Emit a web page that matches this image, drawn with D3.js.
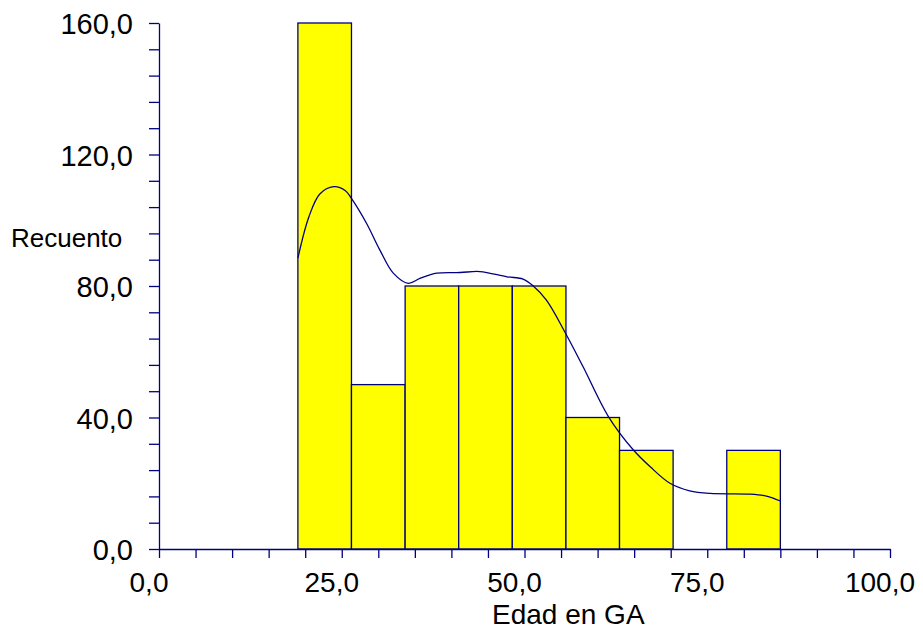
<!DOCTYPE html>
<html>
<head>
<meta charset="utf-8">
<script src="https://cdn.jsdelivr.net/npm/d3@7"></script>
<style>
  body { margin: 0; background: #fff; }
  text { font-family: "Liberation Sans", Arial, sans-serif; fill: #000; }
</style>
</head>
<body>
<svg id="chart" width="923" height="630"></svg>
<script>
// histogram bins (Edad en GA) and counts
var binEdges = [19, 26.33, 33.67, 41, 48.33, 55.67, 63, 70.33, 77.67, 85];
var counts = [160, 50, 80, 80, 80, 40, 30, 0, 30];

// smoothed density curve, in count units
var curveX = [19, 20.5, 22, 23.9, 25.5, 26.3, 28.4, 30.2, 32.05, 34.1, 35.7, 38, 41.2, 43.9, 47.6, 49.8, 51.2, 53, 55.5, 58, 61.5, 64.9, 67.2, 69.9, 72.6, 75.4, 80.8, 83.1, 85];
var curveY = [88.5, 101, 108, 110.2, 109, 106.7, 99, 91, 83.9, 80.8, 82.3, 83.9, 84.1, 84.4, 82.8, 82.1, 80, 75.7, 66.1, 55.5, 40.2, 30.1, 25, 20, 17.7, 16.9, 16.7, 16.1, 14.6];

var xTicks = [0, 25, 50, 75, 100];
var yTicks = [0, 40, 80, 120, 160];

var navy = "#000080";
var svg = d3.select("#chart"),
    margin = {top: 23, left: 159},
    width = 731,
    height = 526;

var x = d3.scaleLinear().domain([0, 100]).range([margin.left, margin.left + width]);
var y = d3.scaleLinear().domain([0, 160]).range([margin.top + height, margin.top]);
var fmt = function(d) { return d3.format(".1f")(d).replace(".", ","); };

var bins = counts.map(function(c, i) { return {x0: binEdges[i], x1: binEdges[i + 1], n: c}; });

svg.append("g").selectAll("rect")
    .data(bins)
  .enter().append("rect")
    .attr("x", function(d) { return x(d.x0); })
    .attr("y", function(d) { return y(d.n); })
    .attr("width", function(d) { return x(d.x1) - x(d.x0); })
    .attr("height", function(d) { return y(0) - y(d.n); })
    .attr("fill", "#ffff00")
    .attr("stroke", navy)
    .attr("stroke-width", 1.3);

var line = d3.line()
    .x(function(d, i) { return x(curveX[i]); })
    .y(function(d) { return y(d); })
    .curve(d3.curveCatmullRom);

svg.append("path")
    .datum(curveY)
    .attr("fill", "none")
    .attr("stroke", navy)
    .attr("stroke-width", 1.3)
    .attr("d", line);

// x axis
var xAxis = svg.append("g")
    .attr("transform", "translate(0," + y(0) + ")")
    .call(d3.axisBottom(x).tickValues(d3.range(0, 101, 5)).tickFormat("").tickSize(9).tickSizeOuter(0));
xAxis.selectAll("line, path").attr("stroke", navy).attr("stroke-width", 1.3);

svg.append("g").selectAll("text")
    .data(xTicks)
  .enter().append("text")
    .attr("x", function(d) { return x(d) - 10; })
    .attr("y", 592)
    .attr("text-anchor", "middle")
    .attr("font-size", 28)
    .text(fmt);

// y axis
var yAxis = svg.append("g")
    .attr("transform", "translate(" + x(0) + ",0)")
    .call(d3.axisLeft(y).tickValues(d3.range(0, 161, 8)).tickFormat("").tickSize(10).tickSizeOuter(0));
yAxis.selectAll("line, path").attr("stroke", navy).attr("stroke-width", 1.3);

svg.append("g").selectAll("text")
    .data(yTicks)
  .enter().append("text")
    .attr("x", 133)
    .attr("y", function(d) { return y(d) + 11; })
    .attr("text-anchor", "end")
    .attr("font-size", 29)
    .text(fmt);

svg.append("text")
    .attr("x", 11)
    .attr("y", 247)
    .attr("font-size", 26)
    .text("Recuento");

svg.append("text")
    .attr("x", 492)
    .attr("y", 624)
    .attr("font-size", 28)
    .text("Edad en GA");
</script>
</body>
</html>
